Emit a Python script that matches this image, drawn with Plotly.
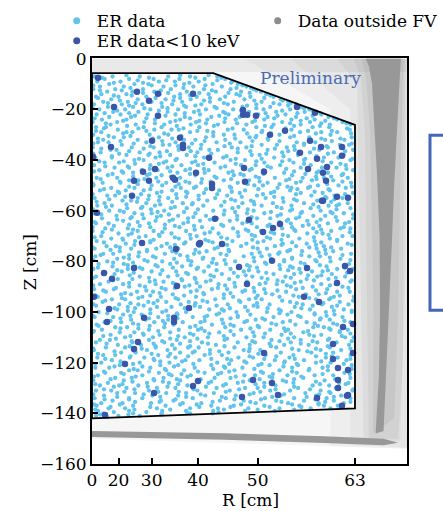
import plotly.graph_objects as go

# ---------------- data (x axis is R^2 in cm^2, y axis is Z in cm) ----------------
r_tick_labels = [0, 20, 30, 40, 50, 63]
z_ticks = [0, -20, -40, -60, -80, -100, -120, -140, -160]

# fiducial volume boundary
fv_r2 = [0, 1831, 3969, 3969, 0, 0]
fv_z = [-5.7, -5.7, -26.1, -138.0, -142.0, -5.7]

# ER data (light blue), listed row by row in Z (first set of rows)
er_z_rows = [-7, -8, -9, -10, -11, -12, -13, -14, -15, -16, -17, -18, -19, -20, -21, -22, -23, -24, -25, -26,
             -27, -28, -29, -30, -31, -32, -33, -34, -35, -36, -37, -38, -39, -40, -41, -42, -43, -44, -45, -46,
             -47, -48, -49, -50, -51, -52, -53, -54, -55, -56, -57, -58, -59, -60, -61, -62, -63, -64, -65, -66,
             -67, -68, -69, -70, -71, -72, -73, -74, -75, -76, -77, -78, -79, -80, -81, -82, -83, -84, -85, -86,
             -87, -88, -89, -90, -91, -92, -93, -94, -95, -96, -97, -98, -99, -100, -101, -102, -103, -104, -105,
             -106, -107, -108, -109, -110, -111, -112, -113, -114, -115, -116, -117, -118, -119, -120, -121, -122,
             -123, -124, -125, -126, -127, -128, -129, -130, -131, -132, -133, -134, -135, -136, -137, -138, -139,
             -140, -141]
er_r2_rows = [
    [40, 310, 720, 1150, 1480, 1890],
    [190, 560, 930, 1320, 1700, 2010],
    [80, 430, 1010, 1250, 1610, 2120],
    [260, 640, 850, 1390, 1820, 2200],
    [120, 480, 1080, 1530, 1960, 2330],
    [20, 350, 770, 1190, 1690, 2090, 2440],
    [230, 610, 940, 1430, 1870, 2250, 2550],
    [140, 520, 1020, 1330, 1760, 2180, 2630],
    [60, 400, 820, 1240, 1580, 2010, 2390, 2740],
    [290, 690, 1110, 1490, 1930, 2300, 2850],
    [170, 540, 900, 1360, 1780, 2140, 2560, 2960],
    [30, 450, 760, 1210, 1650, 2050, 2480, 2830, 3080],
    [240, 620, 1060, 1420, 1850, 2270, 2690, 3150],
    [110, 500, 880, 1300, 1720, 2130, 2590, 2990, 3280],
    [320, 700, 1140, 1540, 1980, 2370, 2780, 3210, 3390],
    [70, 430, 840, 1260, 1630, 2060, 2510, 2920, 3460],
    [260, 590, 1000, 1400, 1800, 2230, 2650, 3080, 3570],
    [150, 520, 950, 1330, 1740, 2170, 2600, 3010, 3360, 3700],
    [10, 380, 790, 1180, 1570, 2000, 2420, 2870, 3290, 3780],
    [280, 660, 1090, 1490, 1900, 2330, 2740, 3150, 3590, 3900],
    [60, 210, 780, 1050, 1620, 2480, 2710, 3330, 3580],
    [390, 940, 1200, 1310, 2050, 2290, 3010, 3890],
    [140, 520, 610, 1480, 1830, 2560, 3140, 3460, 3700],
    [20, 870, 1150, 1990, 2150, 2830, 3600],
    [330, 480, 1010, 1720, 2380, 2470, 2990, 3280, 3920],
    [170, 690, 1390, 1560, 2010, 2660, 3520, 3810],
    [90, 250, 820, 1260, 1880, 2240, 3090, 3370],
    [450, 1070, 1170, 1650, 2560, 2790, 3200, 3740, 3880],
    [10, 600, 930, 1460, 2110, 2330, 2940, 3560],
    [280, 370, 1310, 1770, 1900, 2650, 3060, 3430, 3940],
    [130, 720, 1020, 1590, 2200, 2870, 3290, 3650],
    [520, 850, 1180, 1430, 2410, 2530, 3110, 3800],
    [50, 300, 960, 1690, 1980, 2750, 3380, 3500, 3720],
    [640, 780, 1260, 2090, 2310, 2980, 3200, 3900],
    [190, 410, 1080, 1510, 1850, 2600, 3040, 3610],
    [30, 880, 1350, 1600, 2250, 2470, 2840, 3300, 3830],
    [340, 560, 1140, 1940, 2700, 3150, 3470, 3690],
    [110, 750, 990, 1410, 1760, 2380, 2590, 3250, 3940],
    [470, 620, 1290, 1700, 2060, 2900, 3390, 3560],
    [240, 830, 1050, 1560, 2140, 2290, 3020, 3770],
    [70, 380, 970, 1330, 1880, 2520, 2760, 3180, 3500, 3860],
    [560, 700, 1230, 1990, 2370, 2930, 3320, 3640],
    [160, 430, 1120, 1470, 1650, 2200, 2650, 3080, 3910],
    [20, 900, 1060, 1800, 2450, 2580, 3410, 3720],
    [290, 640, 1340, 1540, 2100, 2800, 3010, 3260, 3830],
    [120, 510, 780, 1210, 1920, 2310, 2990, 3590],
    [410, 980, 1440, 1690, 2230, 2700, 3150, 3480, 3940],
    [230, 350, 860, 1610, 2040, 2490, 3310, 3660],
    [40, 690, 1150, 1280, 1860, 2620, 2880, 3540, 3780],
    [460, 590, 1010, 1740, 2160, 2400, 3090, 3400],
    [190, 820, 1370, 1520, 2270, 2730, 3200, 3860],
    [80, 300, 950, 1680, 1950, 2560, 3010, 3570, 3690],
    [530, 740, 1190, 1430, 2120, 2860, 3300, 3900],
    [260, 420, 1090, 1830, 2000, 2440, 2990, 3450],
    [30, 640, 900, 1560, 2340, 2600, 3150, 3630, 3800],
    [370, 1040, 1300, 1720, 2190, 2800, 3340, 3520],
    [150, 580, 780, 1450, 1890, 2490, 2690, 3080, 3940],
    [470, 960, 1170, 1630, 2080, 2940, 3250, 3700],
    [60, 250, 860, 1380, 2270, 2410, 3000, 3560, 3820],
    [330, 720, 1250, 1540, 1980, 2650, 3180, 3430],
    [200, 540, 1100, 1820, 2130, 2870, 3340, 3750, 3900],
    [10, 690, 930, 1420, 2360, 2550, 3070, 3610],
    [400, 600, 1200, 1700, 1910, 2750, 3250, 3480],
    [140, 810, 1020, 1580, 2210, 2460, 2960, 3780, 3930],
    [290, 460, 1310, 1490, 2040, 2690, 3130, 3590],
    [70, 650, 880, 1760, 2120, 2590, 3360, 3700],
    [510, 770, 1130, 1390, 1980, 2330, 2880, 3240, 3860],
    [220, 360, 1050, 1620, 2250, 2760, 3080, 3500],
    [40, 590, 970, 1300, 1850, 2500, 2640, 3390, 3760],
    [420, 830, 1210, 1730, 2070, 2950, 3170, 3640],
    [170, 320, 1100, 1540, 1940, 2410, 2810, 3530, 3910],
    [50, 700, 920, 1440, 2290, 2560, 3280, 3440],
    [380, 560, 1240, 1670, 1830, 2700, 3020, 3750],
    [230, 840, 1060, 1500, 2160, 2450, 2900, 3390, 3600],
    [100, 480, 1180, 1880, 2020, 2630, 3210, 3880],
    [310, 650, 990, 1360, 1760, 2380, 2990, 3540],
    [20, 540, 760, 1580, 2090, 2840, 3130, 3700, 3940],
    [450, 900, 1270, 1690, 2290, 2510, 3320, 3480],
    [180, 340, 1030, 1450, 1960, 2740, 3050, 3620],
    [60, 720, 1150, 1840, 2200, 2420, 2920, 3400, 3820],
    [390, 610, 1350, 1560, 2070, 2650, 3240, 3570],
    [250, 870, 1080, 1720, 2340, 2880, 3150, 3900],
    [120, 470, 960, 1260, 1910, 2530, 2790, 3460, 3680],
    [560, 800, 1400, 1630, 2160, 3000, 3330, 3780],
    [30, 330, 1110, 1810, 2040, 2600, 3080, 3550],
    [210, 680, 920, 1490, 2270, 2450, 2930, 3700, 3890],
    [440, 590, 1220, 1690, 1990, 2720, 3230, 3420],
    [90, 760, 1040, 1570, 2130, 2830, 3120, 3650, 3950],
    [300, 500, 1300, 1860, 2370, 2560, 3380, 3580],
    [160, 850, 1120, 1460, 1740, 2240, 2990, 3740],
    [20, 410, 700, 1340, 2050, 2680, 3180, 3470, 3870],
    [540, 980, 1200, 1630, 2310, 2500, 3060, 3620],
    [240, 380, 880, 1770, 1960, 2820, 3290, 3800],
    [100, 630, 1060, 1420, 2180, 2640, 3010, 3530, 3920],
    [470, 750, 1290, 1880, 2390, 2950, 3360, 3660],
    [40, 320, 1000, 1520, 1700, 2200, 2740, 3150, 3780],
    [590, 810, 1150, 1960, 2470, 2610, 3440, 3590],
    [190, 440, 940, 1370, 1640, 2300, 2880, 3240, 3900],
    [70, 700, 1230, 1810, 2090, 2780, 3070, 3700],
    [350, 530, 1090, 1480, 2010, 2520, 3340, 3500],
    [150, 860, 1310, 1600, 2250, 2690, 2960, 3600, 3860],
    [10, 420, 640, 1180, 1920, 2430, 3190, 3740],
    [280, 780, 1020, 1530, 2140, 2860, 3280, 3460],
    [500, 920, 1400, 1750, 2330, 2590, 3050, 3820, 3950],
    [120, 270, 860, 1280, 2000, 2710, 3150, 3560],
    [60, 610, 1090, 1660, 2200, 2460, 3000, 3400, 3690],
    [390, 740, 1210, 1870, 2380, 2900, 3270, 3880],
    [210, 500, 960, 1450, 1610, 2150, 2780, 3590],
    [30, 830, 1140, 1780, 2290, 2540, 3120, 3450, 3760],
    [440, 660, 1330, 1520, 2060, 2850, 3310, 3640],
    [170, 350, 1000, 1700, 1960, 2620, 3040, 3900],
    [80, 570, 790, 1260, 2210, 2430, 2980, 3530, 3710],
    [300, 940, 1410, 1620, 2100, 2760, 3200, 3840],
    [140, 480, 720, 1170, 1890, 2330, 2900, 3380, 3600],
    [420, 1030, 1300, 1800, 2510, 2680, 3110, 3920],
    [50, 260, 880, 1550, 2010, 2270, 3020, 3480, 3700],
    [560, 690, 1120, 1390, 2150, 2830, 3270, 3560],
    [200, 440, 1010, 1700, 1950, 2580, 3090, 3810],
    [90, 760, 1200, 1490, 2300, 2460, 2950, 3360, 3640],
    [350, 600, 1080, 1850, 2090, 2720, 3190, 3900],
    [20, 480, 940, 1330, 1620, 2380, 2880, 3510],
    [240, 830, 1160, 1760, 2200, 2600, 3040, 3730, 3870],
    [120, 410, 700, 1440, 1980, 2770, 3330, 3580],
    [520, 980, 1260, 1880, 2310, 2500, 3110, 3680],
    [60, 290, 860, 1590, 2080, 2690, 2990, 3450, 3930],
    [380, 650, 1120, 1420, 1840, 2440, 3220, 3600],
    [180, 910, 1300, 1710, 2170, 2850, 3380, 3760],
    [40, 560, 760, 1520, 2020, 2610, 3050, 3540, 3900],
    [310, 1040, 1230, 1930, 2290, 2780, 3200, 3650],
    [140, 460, 890, 1370, 1650, 2470, 2960, 3420, 3800],
    [70, 620, 1110, 1800, 2140, 2600, 3130, 3500, 3710],
    [250, 500, 980, 1480, 1900, 2360, 2830, 3300, 3600],
    [90, 560, 1060, 1420, 1830, 2310, 2760],
    [170, 620, 1050, 1480, 1820],
    [60, 400, 720],
]

# ER data (light blue), second set of rows at half-centimetre Z
er2_z_rows = [-6.5, -7.5, -8.5, -9.5, -10.5, -11.5, -12.5, -13.5, -14.5, -15.5, -16.5, -17.5, -18.5, -19.5,
              -20.5, -21.5, -22.5, -23.5, -24.5, -25.5, -26.5, -27.5, -28.5, -29.5, -30.5, -31.5, -32.5, -33.5,
              -34.5, -35.5, -36.5, -37.5, -38.5, -39.5, -40.5, -41.5, -42.5, -43.5, -44.5, -45.5, -46.5, -47.5,
              -48.5, -49.5, -50.5, -51.5, -52.5, -53.5, -54.5, -55.5, -56.5, -57.5, -58.5, -59.5, -60.5, -61.5,
              -62.5, -63.5, -64.5, -65.5, -66.5, -67.5, -68.5, -69.5, -70.5, -71.5, -72.5, -73.5, -74.5, -75.5,
              -76.5, -77.5, -78.5, -79.5, -80.5, -81.5, -82.5, -83.5, -84.5, -85.5, -86.5, -87.5, -88.5, -89.5,
              -90.5, -91.5, -92.5, -93.5, -94.5, -95.5, -96.5, -97.5, -98.5, -99.5, -100.5, -101.5, -102.5,
              -103.5, -104.5, -105.5, -106.5, -107.5, -108.5, -109.5, -110.5, -111.5, -112.5, -113.5, -114.5,
              -115.5, -116.5, -117.5, -118.5, -119.5, -120.5, -121.5, -122.5, -123.5, -124.5, -125.5, -126.5,
              -127.5, -128.5, -129.5, -130.5, -131.5, -132.5, -133.5, -134.5, -135.5, -136.5, -137.5, -138.5,
              -139.5, -140.5, -141.5]
er2_r2_rows = [
    [520, 1330, 1760],
    [150, 860, 1560, 1950],
    [690, 1120, 1890],
    [330, 770, 1470, 2100],
    [20, 900, 1260, 1710, 2270],
    [580, 1380, 2180, 2400],
    [120, 450, 1040, 1810, 2480],
    [770, 1150, 1620, 2060, 2380],
    [330, 600, 1480, 2230, 2690],
    [90, 960, 1330, 1780, 2600],
    [420, 1230, 1690, 2450, 2880],
    [240, 660, 1050, 1990, 2740, 3000],
    [560, 1390, 1560, 2340, 2960],
    [10, 790, 1140, 1880, 2480, 3200],
    [380, 1010, 1610, 2250, 2870, 3330],
    [190, 560, 1400, 2010, 2620, 3100, 3450],
    [650, 1110, 1920, 2360, 2800, 3330],
    [40, 820, 1480, 2010, 2750, 3240, 3650],
    [470, 1260, 1620, 2460, 3150, 3520],
    [210, 950, 1720, 2190, 2990, 3460, 3840],
    [530, 1280, 1840, 2610, 3050, 3440],
    [180, 700, 1380, 2120, 2920, 3850],
    [60, 820, 1590, 1740, 2570, 3260, 3620],
    [470, 1090, 2340, 2700, 3380, 3910],
    [250, 580, 1350, 1830, 2480, 3050],
    [90, 920, 1210, 2160, 2650, 3460, 3750],
    [430, 1060, 1700, 2420, 2830, 3620],
    [20, 630, 1510, 2080, 3200, 3920],
    [290, 880, 1300, 2000, 2410, 3050, 3540],
    [140, 780, 1640, 2200, 2760, 3350],
    [560, 1130, 1490, 2390, 2960, 3820],
    [20, 410, 870, 1800, 2630, 3110, 3560],
    [300, 1030, 1560, 2030, 2890, 3390],
    [710, 1280, 2170, 2560, 3220, 3930],
    [110, 480, 1120, 1560, 2480, 2870, 3480],
    [650, 1010, 1680, 2170, 3200, 3750],
    [200, 540, 1210, 2010, 2650, 3550],
    [870, 1480, 1690, 2410, 2930, 3840],
    [30, 450, 1180, 2120, 3050, 3420],
    [310, 870, 1480, 2240, 2590, 3220, 3790],
    [620, 1190, 1850, 2470, 3380, 3610],
    [130, 790, 1660, 2100, 2980, 3390],
    [420, 1000, 1410, 1790, 2530, 3150, 3780],
    [20, 690, 1310, 2350, 2830, 3550],
    [560, 1260, 1570, 2080, 2950, 3290, 3920],
    [180, 880, 1720, 2510, 3100, 3570],
    [390, 1050, 1420, 2110, 2750, 3360],
    [10, 740, 1270, 1890, 2580, 3080, 3820],
    [500, 1020, 1420, 2260, 2750, 3520],
    [260, 850, 1610, 2100, 3050, 3660],
    [70, 680, 1210, 2000, 2440, 2890, 3610],
    [520, 1030, 1510, 2450, 3340, 3730],
    [210, 760, 1250, 2210, 2790, 3420],
    [20, 890, 1600, 2350, 3020, 3690],
    [480, 990, 1390, 2160, 2700, 3170, 3600],
    [140, 760, 1160, 1990, 2850, 3940],
    [600, 980, 1530, 2410, 3130, 3680],
    [380, 1220, 1780, 2190, 2960, 3450],
    [40, 690, 1450, 2340, 2830, 3390, 3880],
    [560, 1100, 1950, 2680, 3270],
    [10, 880, 1320, 1660, 2490, 3020, 3800],
    [300, 620, 1550, 2320, 3050, 3460],
    [160, 1060, 1780, 2200, 2700, 3390, 3890],
    [550, 1010, 1480, 2410, 2880, 3570],
    [40, 710, 1250, 1950, 2640, 3350],
    [470, 930, 1710, 2420, 2860, 3700],
    [180, 880, 1410, 1820, 2500, 3020, 3460],
    [640, 1250, 2040, 2860, 3380, 3920],
    [10, 420, 1180, 1900, 2430, 3280, 3610],
    [280, 830, 1560, 2060, 2990, 3520],
    [710, 1270, 1620, 2530, 2830, 3420],
    [130, 560, 1330, 2030, 2680, 3160, 3780],
    [480, 960, 1680, 2440, 3020, 3590],
    [20, 790, 1450, 2000, 2900, 3370, 3900],
    [320, 620, 1280, 1810, 2610, 3150],
    [540, 960, 1490, 2340, 2830, 3440],
    [90, 720, 1220, 1600, 2490, 3030, 3810],
    [380, 1060, 1880, 2370, 2960, 3560],
    [200, 630, 1420, 2140, 2630, 3150, 3850],
    [570, 1290, 1790, 2320, 3260, 3460],
    [20, 860, 1550, 2560, 3000, 3680],
    [320, 950, 1360, 1790, 2800, 3350, 3920],
    [560, 1220, 1580, 2150, 2620, 3060],
    [20, 720, 1470, 2010, 2940, 3590],
    [360, 1050, 1250, 1900, 2440, 3180, 3870],
    [170, 820, 1580, 2310, 2800, 3380],
    [500, 1020, 1680, 2090, 2620, 3530],
    [60, 880, 1390, 2500, 3040, 3740],
    [450, 700, 1260, 1990, 2470, 3280, 3600],
    [200, 990, 1670, 2220, 2870, 3940],
    [580, 930, 1560, 2490, 3090, 3490],
    [60, 780, 1550, 1880, 2440, 3330, 3700],
    [340, 650, 1400, 2080, 2650, 3160],
    [540, 1120, 1990, 2350, 2850, 3650, 3920],
    [230, 880, 1280, 1920, 2830, 3360],
    [10, 580, 1150, 1740, 2200, 3110, 3540],
    [430, 860, 1290, 2090, 2570, 3450],
    [280, 1070, 1700, 2340, 2990, 3810],
    [620, 1100, 1980, 2710, 3360, 3640],
    [100, 870, 1560, 2140, 2500, 3410],
    [430, 700, 1650, 2390, 2900, 3580],
    [30, 1000, 1700, 2090, 2920, 3260, 3740],
    [770, 1480, 1770, 2610, 3000, 3900],
    [170, 580, 1300, 1990, 2450, 3350, 3770],
    [360, 1180, 1590, 2040, 2960, 3580],
    [600, 1060, 1480, 2420, 2830, 3330, 3920],
    [220, 930, 1330, 1750, 2680, 3150],
    [570, 960, 1480, 2000, 2700, 3560],
    [20, 750, 1250, 2380, 3020, 3380, 3900],
    [340, 640, 1550, 1920, 2370, 3250],
    [90, 900, 1180, 1780, 2510, 3530],
    [580, 1150, 1450, 2380, 2780, 3380, 3620],
    [200, 930, 1800, 2040, 2600, 3060, 3900],
    [430, 1030, 1360, 2300, 2910, 3460],
    [50, 620, 1530, 2070, 2560, 3090, 3800],
    [340, 760, 1240, 1990, 2890, 3560],
    [630, 1100, 1830, 2450, 3280, 3920],
    [180, 860, 1600, 2070, 2550, 3020],
    [480, 1160, 1350, 1900, 2730, 3480, 3890],
    [30, 660, 1440, 2170, 2680, 3160],
    [280, 930, 1280, 1640, 2530, 3050, 3670],
    [610, 1070, 1800, 2280, 2930, 3380],
    [50, 460, 1300, 2020, 2470, 3440, 3830],
    [330, 840, 1140, 1720, 2600, 3050],
    [180, 640, 1530, 2220, 2770, 3290, 3940],
    [490, 1000, 1310, 2020, 2540, 3580],
    [20, 780, 1640, 2380, 2900, 3430],
    [380, 1030, 1420, 1960, 2720, 3240, 3650],
    [190, 560, 1260, 2150, 2550, 3370],
    [650, 1020, 1820, 2390, 2860, 3520, 3900],
    [30, 420, 1330, 1580, 2250, 3020, 3420],
    [280, 880, 1620, 2090, 2680, 3160],
    [50, 640, 1180, 1990, 2500, 3050],
    [330, 820, 1430, 1910],
    [120, 550, 1050],
    [230],
]

# ER data < 10 keV (dark blue)
low_r2 = [91, 679, 996, 860, 332, 996, 1524, 2279, 2279, 2339, 2475, 906, 1328, 1373, 1373, 287, 2686, 1766,
          2294, 2596, 951, 770, 1222, 1253, 1570, 634, 860, 1811, 1811, 2309, 604, 15, 1856, 2369, 2837, 2732,
          2581, 3486, 1630, 1962, 2717, 2219, 3245, 3818, 3894, 3698, 2339, 3200, 3426, 3788, 3939, 3637, 2596,
          3939, 3637, 3773, 3773, 3698, 3864, 3713, 3864, 3713, 3864, 3713, 3773, 936, 1524, 1600, 2264, 2430,
          2716, 2807, 3396, 3848, 196, 75, 755, 1268, 1615, 634, 181, 302, 1283, 30, 257, 1464, 785, 1238, 1238,
          226, 694, 634, 498, 3094, 2913, 3290, 3456, 3139, 3396, 3260, 3547, 3486, 3532, 3471, 3365]
low_z = [-7.5, -13.0, -13.8, -16.6, -19.0, -22.5, -13.8, -20.2, -22.1, -22.1, -22.5, -32.4, -31.2, -34.0, -35.2,
         -34.8, -30.0, -39.1, -43.1, -44.6, -43.5, -44.6, -47.0, -47.8, -45.0, -48.2, -48.2, -49.4, -51.0, -48.6,
         -54.1, -38.7, -63.2, -63.6, -65.2, -66.8, -68.4, -56.1, -72.7, -73.1, -79.8, -82.2, -82.6, -81.8, -83.8,
         -88.5, -88.9, -94.0, -96.0, -105.9, -104.7, -112.6, -116.2, -116.2, -118.5, -34.8, -38.3, -54.5, -54.9,
         -122.1, -122.9, -126.8, -132.8, -130.0, -137.0, -132.0, -129.2, -127.2, -133.5, -126.8, -128.0, -132.8,
         -133.9, -133.1, -140.7, -60.8, -72.7, -75.1, -73.1, -82.6, -84.6, -86.9, -89.7, -94.0, -98.8, -98.4,
         -102.3, -102.3, -103.9, -103.9, -111.8, -114.6, -120.5, -19.0, -28.4, -32.4, -34.8, -37.1, -39.5, -43.5,
         -42.7, -45.0, -48.2, -56.1, -21.3]

# data outside the fiducial volume, drawn as graded density regions
haze_r2 = [0, 4754, 4754, 4600, 0]
haze_z = [0, 0, -153.8, -153.8, -150.0]
top_r2 = [0, 4754, 4754, 0]
top_z = [0, 0, -5.2, -5.2]
l1_r2 = [2300, 4754, 4754, 3600, 3600]
l1_z = [0, 0, -154, -153, -20]
l2_r2 = [3000, 4754, 4754, 3900, 3900]
l2_z = [0, 0, -153.5, -152.5, -20]
l3_r2 = [3700, 4745, 4735, 4650, 4100, 4050, 4000]
l3_z = [0, 0, -80, -151, -151, -80, -10]
l4_r2 = [3950, 4725, 4705, 4690, 4620, 4180, 4150, 4120, 4060]
l4_z = [0, 0, -60, -120, -150, -150, -100, -30, -8]
l5_r2 = [4060, 4700, 4660, 4620, 4560, 4240, 4250, 4200, 4140]
l5_z = [0, 0, -40, -100, -142, -148, -100, -30, -8]
band_r2 = [4130, 4180, 4226, 4260, 4300, 4340, 4347, 4330, 4290, 4280, 4400, 4420, 4460, 4497, 4530, 4560, 4600,
           4630, 4660]
band_z = [0, -3, -10, -25, -45, -70, -100, -125, -140, -148, -147, -135, -115, -95, -70, -50, -30, -12, 0]
strip_r2 = [0, 2000, 3500, 4400, 4620, 4400, 3500, 2000, 0]
strip_z = [-147.0, -147.9, -149.0, -150.0, -151.6, -152.6, -151.7, -150.4, -149.3]

# ---------------- figure ----------------
FONT = "DejaVu Serif"
GRAY = "rgb(152,152,152)"
LIGHT = "#62C4EC"
DARK = "#3A56A8"

fig = go.Figure()


def region(xs, ys, color):
    fig.add_trace(go.Scatter(x=xs, y=ys, mode="lines", fill="toself", fillcolor=color,
                             line=dict(width=0), hoverinfo="skip", showlegend=False))


region(haze_r2, haze_z, "rgba(140,140,140,0.08)")
region(top_r2, top_z, "rgba(140,140,140,0.12)")
region(l1_r2, l1_z, "rgba(140,140,140,0.07)")
region(l2_r2, l2_z, "rgba(140,140,140,0.08)")
region(l3_r2, l3_z, "rgba(140,140,140,0.10)")
region(l4_r2, l4_z, "rgba(140,140,140,0.12)")
region(l5_r2, l5_z, "rgba(140,140,140,0.16)")
region(band_r2, band_z, GRAY)
region(strip_r2, strip_z, GRAY)
region(fv_r2, fv_z, "white")

er_r2 = []
er_z = []
for z_rows, r2_rows in ((er_z_rows, er_r2_rows), (er2_z_rows, er2_r2_rows)):
    for z, row in zip(z_rows, r2_rows):
        er_r2 += row
        er_z += [z] * len(row)

fig.add_trace(go.Scatter(x=er_r2, y=er_z, mode="markers", marker=dict(size=4.3, color=LIGHT),
                         showlegend=False, hoverinfo="skip"))
fig.add_trace(go.Scatter(x=low_r2, y=low_z, mode="markers", marker=dict(size=6.5, color=DARK),
                         showlegend=False, hoverinfo="skip"))
fig.add_trace(go.Scatter(x=fv_r2, y=fv_z, mode="lines", line=dict(color="black", width=1.8),
                         showlegend=False, hoverinfo="skip"))

# legend entries
fig.add_trace(go.Scatter(x=[None], y=[None], mode="markers", name="ER data",
                         marker=dict(size=7, color=LIGHT), legend="legend"))
fig.add_trace(go.Scatter(x=[None], y=[None], mode="markers", name="ER data<10 keV",
                         marker=dict(size=7, color=DARK), legend="legend3"))
fig.add_trace(go.Scatter(x=[None], y=[None], mode="markers", name="Data outside FV",
                         marker=dict(size=7, color="rgb(140,140,140)"), legend="legend2"))

fig.add_annotation(x=3290, y=-7.5, text="Preliminary", showarrow=False,
                   font=dict(family=FONT, size=17, color="#4A6BB5"))
fig.add_annotation(xref="paper", yref="paper", x=-0.197, y=0.497, xanchor="center", yanchor="middle",
                   text="Z [cm]", textangle=-90, showarrow=False,
                   font=dict(family=FONT, size=17, color="black"))
fig.add_annotation(xref="paper", yref="paper", x=0.502, y=-0.089, xanchor="center", yanchor="middle",
                   text="R [cm]", showarrow=False, borderpad=0,
                   font=dict(family=FONT, size=17, color="black"))

fig.add_shape(type="rect", xref="paper", yref="paper", x0=1.073, x1=1.25, y0=0.379, y1=0.810,
              line=dict(color="#4566B8", width=3))

axis_common = dict(showline=True, linecolor="black", linewidth=1.8, mirror=True, ticks="inside",
                   ticklen=6, tickwidth=1.5, tickcolor="black", showgrid=False, zeroline=False,
                   automargin=False, tickfont=dict(family=FONT, size=17, color="black"))

legend_common = dict(xref="paper", yref="paper", xanchor="left", yanchor="top",
                     bgcolor="rgba(0,0,0,0)", font=dict(family=FONT, size=17))

fig.update_layout(
    width=443, height=511,
    margin=dict(l=92, r=36, t=58, b=47, autoexpand=False),
    paper_bgcolor="white", plot_bgcolor="white",
    font=dict(family=FONT, size=17, color="black"),
    xaxis=dict(range=[0, 4754], tickvals=[r * r for r in r_tick_labels],
               ticktext=[str(r) for r in r_tick_labels], **axis_common),
    yaxis=dict(range=[-160, 0.3], tickvals=z_ticks, **axis_common),
    legend=dict(x=-0.112, y=1.135, **legend_common),
    legend3=dict(x=-0.112, y=1.086, **legend_common),
    legend2=dict(x=0.526, y=1.135, **legend_common),
)

fig.write_html("out.html")
